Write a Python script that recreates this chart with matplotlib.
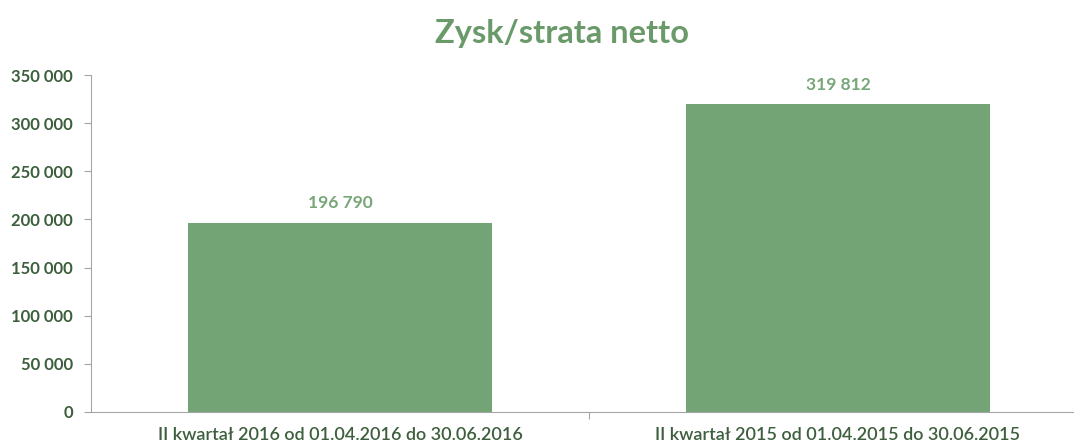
import matplotlib

matplotlib.use('Agg')
import matplotlib.pyplot as plt
from matplotlib.ticker import FuncFormatter

categories = ['II kwartał 2016 od 01.04.2016 do 30.06.2016',
              'II kwartał 2015 od 01.04.2015 do 30.06.2015']
values = [196790, 319812]
y_ticks = [0, 50000, 100000, 150000, 200000, 250000, 300000, 350000]

plt.rcParams['font.family'] = ['Lato', 'DejaVu Sans']

dark = '#3d5f3d'
bar_color = '#72a476'
label_color = '#77a677'
axis_color = '#a6a6a6'


def fmt(v, pos=None):
    return '{:,}'.format(int(v)).replace(',', ' ')


fig = plt.figure(figsize=(10.74, 4.47), dpi=100)
ax = fig.add_axes([91 / 1074, 35 / 447, 996 / 1074, 337 / 447])

x = range(len(categories))
ax.bar(x, values, width=0.61, color=bar_color)
for i, v in enumerate(values):
    ax.text(i, v + 12000, fmt(v), ha='center', va='bottom',
            color=label_color, fontsize=12.5, fontweight='bold')

ax.set_xlim(-0.5, 1.5)
ax.set_ylim(0, 350000)
ax.set_yticks(y_ticks)
ax.yaxis.set_major_formatter(FuncFormatter(fmt))
ax.set_xticks([0.5])
ax.set_xticks(list(x), minor=True)
ax.set_xticklabels([''])
ax.set_xticklabels(categories, minor=True)
ax.tick_params(axis='x', which='minor', length=0, pad=11, labelsize=13, labelcolor=dark)
ax.tick_params(axis='x', which='major', length=5, color=axis_color, direction='out')
ax.tick_params(axis='y', length=5, color=axis_color, labelsize=12, labelcolor=dark, pad=8)
for lbl in ax.get_yticklabels():
    lbl.set_fontweight('bold')
for lbl in ax.get_xticklabels(minor=True):
    lbl.set_fontweight('semibold')

for s in ['top', 'right']:
    ax.spines[s].set_visible(False)
for s in ['left', 'bottom']:
    ax.spines[s].set_color(axis_color)

fig.text(0.523, 0.925, 'Zysk/strata netto', ha='center', va='center',
         fontsize=23.5, fontweight='bold', color='#6a9a6a')

plt.savefig('out.png', dpi=100)
